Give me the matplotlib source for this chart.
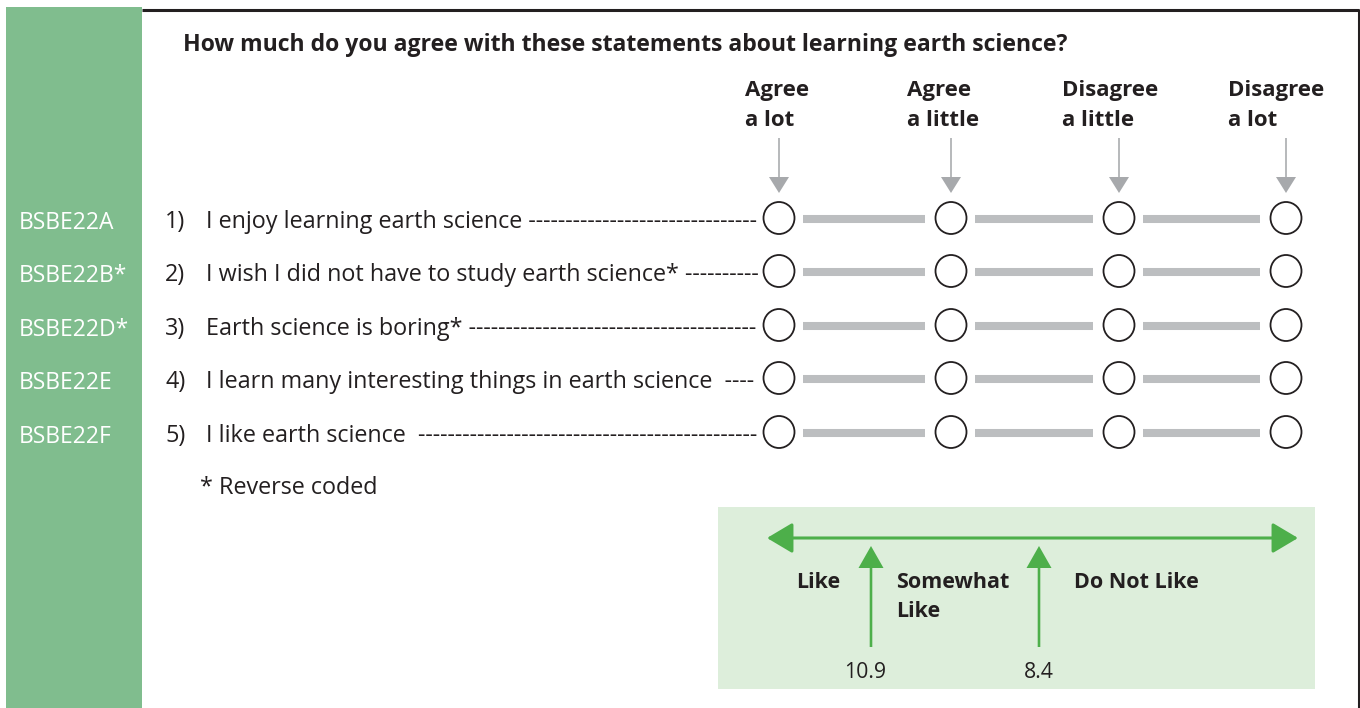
import matplotlib
matplotlib.use('Agg')
import matplotlib.pyplot as plt
from matplotlib.patches import Rectangle, Ellipse

plt.rcParams['font.family'] = ['Open Sans', 'DejaVu Sans']

codes = ['BSBE22A', 'BSBE22B*', 'BSBE22D*', 'BSBE22E', 'BSBE22F']
statements = [
    'I enjoy learning earth science ',
    'I wish I did not have to study earth science* ',
    'Earth science is boring* ',
    'I learn many interesting things in earth science  ',
    'I like earth science  ',
]
responses = ['Agree\na lot', 'Agree\na little', 'Disagree\na little', 'Disagree\na lot']
title = 'How much do you agree with these statements about learning earth science?'
note = '* Reverse coded'
regions = ['Like', 'Somewhat\nLike', 'Do Not Like']
cut_scores = [10.9, 8.4]

# layout (pixels, y down)
col_x = [779, 951, 1119, 1286]
row_y = [218, 271, 325, 378, 432]
head_x = [745, 907, 1062, 1228]
region_x = [796, 896, 1074]
cut_x = [871, 1039]

green_strip = '#80bd8e'
box_green = '#ddeedb'
arrow_green = '#4daf4a'
dark = '#231f20'
gray = '#bcbec0'
arrow_gray = '#a7a9ac'

fig = plt.figure(figsize=(13.6, 7.08), dpi=100)
ax = fig.add_axes([0, 0, 1, 1])
ax.set_xlim(0, 1360)
ax.set_ylim(708, 0)
ax.axis('off')

ax.add_patch(Rectangle((6, 7), 136, 701, color=green_strip, lw=0))
ax.plot([142, 1359], [9.5, 9.5], color=dark, lw=2.2, solid_capstyle='butt')
ax.plot([1358.5, 1358.5], [9, 708], color=dark, lw=2.2, solid_capstyle='butt')

ax.text(183, 51, title, fontsize=16.6, fontweight='bold', color=dark, va='baseline')

for x, hx, lab in zip(col_x, head_x, responses):
    top, bottom = lab.split('\n')
    ax.text(hx, 96, top, fontsize=16, fontweight='bold', color=dark, va='baseline')
    ax.text(hx, 126, bottom, fontsize=16, fontweight='bold', color=dark, va='baseline')
    ax.arrow(x, 138, 0, 55, width=1.6, head_width=20, head_length=16,
             length_includes_head=True, color=arrow_gray, lw=0)

renderer = fig.canvas.get_renderer()


def fill_dashes(t, end_x):
    base = t.get_text()
    while True:
        t.set_text(base + '-')
        if t.get_window_extent(renderer).x1 > end_x:
            t.set_text(base)
            return
        base = base + '-'


for i, (code, stmt, y) in enumerate(zip(codes, statements, row_y)):
    ax.text(19, y + 11, code, fontsize=16.5, color='white', va='baseline')
    ax.text(165, y + 10, f'{i + 1})', fontsize=16.8, color=dark, va='baseline')
    t = ax.text(206, y + 10, stmt, fontsize=16.8, color=dark, va='baseline')
    fill_dashes(t, 761)
    for j, x in enumerate(col_x):
        ax.add_patch(Ellipse((x, y), 31, 32, fill=False, edgecolor=dark, lw=1.3))
        if j < len(col_x) - 1:
            ax.plot([x + 24, col_x[j + 1] - 26], [y + 1, y + 1], color=gray, lw=5.8,
                    solid_capstyle='butt')

ax.text(200, 494, note, fontsize=16.8, color=dark, va='baseline')

# scale box
ax.add_patch(Rectangle((718, 507), 597, 182, color=box_green, lw=0))
ax.annotate('', xy=(767, 538), xytext=(1298, 538),
            arrowprops=dict(arrowstyle='<|-|>,head_length=15.8,head_width=9.4',
                            mutation_scale=1, lw=2.2, color=arrow_green,
                            shrinkA=0, shrinkB=0))
for x, val in zip(cut_x, cut_scores):
    ax.arrow(x, 647, 0, -101, width=2.6, head_width=25, head_length=22,
             length_includes_head=True, color=arrow_green, lw=0)
    ax.text(x - 6 if val >= 10 else x, 678, f'{val}', fontsize=15.3, color=dark,
            ha='center', va='baseline')

for x, lab in zip(region_x, regions):
    for k, line in enumerate(lab.split('\n')):
        ax.text(x, 588 + 29 * k, line, fontsize=15.5, fontweight='bold', color=dark,
                va='baseline')

fig.savefig('out.png', dpi=100)
